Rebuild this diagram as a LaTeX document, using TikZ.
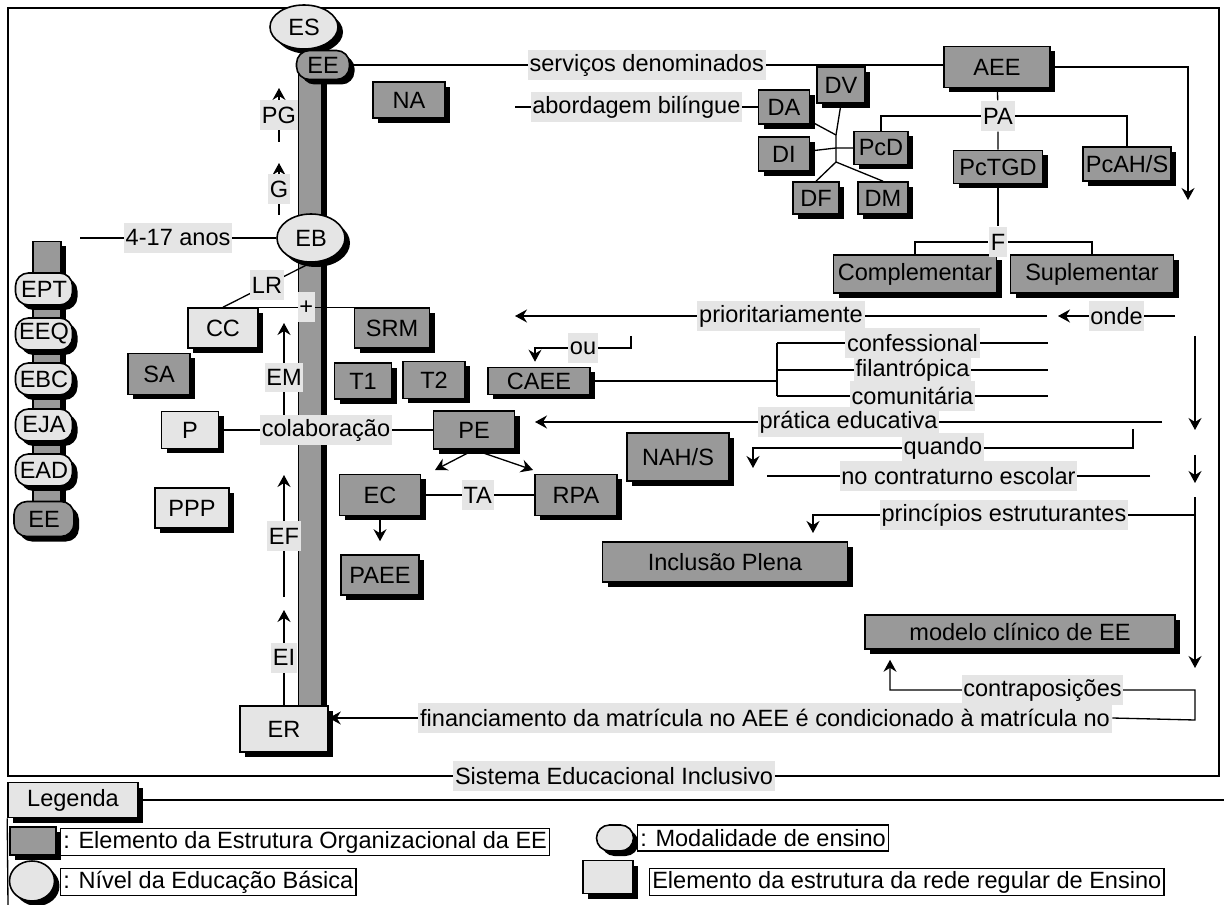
\documentclass[tikz,border=0pt]{standalone}
\usepackage{fontspec}
\setmainfont{Liberation Sans}
\usetikzlibrary{arrows.meta,shadows,shapes.geometric}
\definecolor{boxdark}{gray}{0.6}
\definecolor{boxlight}{gray}{0.9}
\definecolor{labfill}{gray}{0.9}
\begin{document}
\begin{tikzpicture}[x=0.02cm, y=-0.02cm, font=\fontsize{13.4}{15}\selectfont, line width=0.75pt,
  sz/.style 2 args={minimum width=#1*0.02cm, minimum height=#2*0.02cm},
  sh/.style={drop shadow={shadow xshift=0.1cm, shadow yshift=-0.1cm, fill=black, opacity=1}},
  d/.style={draw, line width=0.9pt, fill=boxdark, inner sep=0pt, sh},
  l/.style={draw, line width=0.9pt, fill=boxlight, inner sep=0pt, sh},
  lvl/.style={ellipse, draw, line width=0.9pt, fill=boxlight, inner sep=0pt, sh},
  mod/.style={draw, line width=0.9pt, rounded corners=0.26cm, inner sep=0pt, sh},
  lab/.style={fill=labfill, inner sep=1pt, minimum height=0.6cm},
  key/.style={draw, line width=0.7pt, fill=white, inner sep=1.5pt, minimum height=0.52cm},
  a/.style={-{Stealth[length=2.4mm, width=2.6mm, inset=0.8mm]}}]
\useasboundingbox (0,0) rectangle (1224,905);
\draw[line width=0.9pt] (8,8) rectangle (1219,776);
\node[lab] (sei) at (614,776) {Sistema Educacional Inclusivo};
% colunas
\node[d, sz={23}{647}] (bar) at (310,383) {};
\node[d, sz={28}{273}] (side) at (47,378) {};
% niveis e modalidades
\node[lvl, sz={68}{44}] (ES) at (304,27) {ES};
\node[mod, fill=boxdark, sz={53}{29}] (EEt) at (323,65) {EE};
\node[lvl, sz={68}{48}] (EB) at (311,238) {EB};
\node[mod, fill=boxlight, sz={57}{32}] (EPT) at (44,289) {EPT};
\node[mod, fill=boxlight, sz={57}{32}] (EEQ) at (44,334) {EEQ};
\node[mod, fill=boxlight, sz={57}{32}] (EBC) at (44,379) {EBC};
\node[mod, fill=boxlight, sz={57}{32}] (EJA) at (44,425) {EJA};
\node[mod, fill=boxlight, sz={57}{32}] (EAD) at (44,470) {EAD};
\node[mod, fill=boxdark, sz={60}{35}] (EEl) at (44,519) {EE};
% AEE
\node[d, sz={72}{36}] (NA) at (409,100) {NA};
\node[d, sz={106}{41}] (AEE) at (997,67) {AEE};
\node[d, sz={51}{34}] (DA) at (784,107) {DA};
\node[d, sz={48}{36}] (DV) at (841,85) {DV};
\node[d, sz={51}{34}] (DI) at (784,154) {DI};
\node[d, sz={54}{33}] (PcD) at (881,148) {PcD};
\node[d, sz={46}{32}] (DF) at (816,198) {DF};
\node[d, sz={50}{32}] (DM) at (883,198) {DM};
\node[d, sz={89}{33}] (PcTGD) at (998,167) {PcTGD};
\node[d, sz={88}{34}] (PcAHS) at (1127,164) {PcAH/S};
\node[d, sz={163}{38}] (comp) at (915,274) {Complementar};
\node[d, sz={163}{38}] (supl) at (1092,274) {Suplementar};
% rede regular
\node[l, sz={70}{40}] (CC) at (223,328) {CC};
\node[d, sz={75}{40}] (SRM) at (392,328) {SRM};
\node[d, sz={62}{41}] (SA) at (159,374) {SA};
\node[d, sz={57}{36}] (T1) at (363,381) {T1};
\node[d, sz={62}{37}] (T2) at (434,380) {T2};
\node[d, sz={102}{27}] (CAEE) at (539,381) {CAEE};
\node[l, sz={57}{37}] (P) at (190,430) {P};
\node[d, sz={81}{38}] (PE) at (474,430) {PE};
\node[d, sz={102}{48}] (NAHS) at (678,457) {NAH/S};
\node[l, sz={74}{40}] (PPP) at (192,508) {PPP};
\node[d, sz={81}{41}] (EC) at (380,495) {EC};
\node[d, sz={82}{41}] (RPA) at (576,495) {RPA};
\node[d, sz={78}{40}] (PAEE) at (380,575) {PAEE};
\node[d, sz={245}{40}] (IP) at (725,562) {Inclusão Plena};
\node[d, sz={310}{34}] (MC) at (1020,632) {modelo clínico de EE};
\node[l, sz={88}{46}] (ER) at (284,729) {ER};
% pontos soltos
\coordinate (gA) at (279,215); \coordinate (gB) at (279,163);
\coordinate (gC) at (279,142); \coordinate (gD) at (279,88);
\coordinate (anos) at (80,238);
\coordinate (bil) at (515,107);
\coordinate (j1) at (836,135); \coordinate (j2) at (836,148); \coordinate (j3) at (836,162);
\coordinate (down1) at (1188,200);
\coordinate (em1) at (284,432); \coordinate (em2) at (284,323);
\coordinate (ef1) at (284,597); \coordinate (ef2) at (284,475);
\coordinate (ei2) at (284,610);
\coordinate (toEC) at (435,470); \coordinate (toRPA) at (533,470);
\coordinate (ou1) at (631,336); \coordinate (ou2) at (535,348);
\coordinate (br0) at (777,381); \coordinate (br1) at (777,343);
\coordinate (br2) at (777,370); \coordinate (br3) at (777,396);
\coordinate (cf) at (1048,343); \coordinate (fl) at (1048,370); \coordinate (cm) at (1048,396);
\coordinate (pri1) at (1047,316); \coordinate (pri2) at (515,316);
\coordinate (ond1) at (1175,316); \coordinate (ond2) at (1058,316);
\coordinate (v2a) at (1195,336); \coordinate (v2b) at (1195,430);
\coordinate (v3a) at (1195,455); \coordinate (v3b) at (1195,483);
\coordinate (v4a) at (1195,497); \coordinate (v4b) at (1195,668);
\coordinate (pe1) at (1195,515); \coordinate (pe2) at (813,533);
\coordinate (pr1) at (1162,422); \coordinate (pr2) at (535,422);
\coordinate (qd1) at (1133,429); \coordinate (qd2) at (753,448); \coordinate (qd3) at (753,468);
\coordinate (nc1) at (1150,476); \coordinate (nc2) at (767,476);
\coordinate (ct1) at (1195,720); \coordinate (ct2) at (890,690);
% ligacoes
\draw[a] (gA) -- node[lab]{G} (gB);
\draw[a] (gC) -- node[lab]{PG} (gD);
\draw (EB.west) -- node[lab]{4-17 anos} (anos);
\draw (EEt.east) -- node[lab]{serviços denominados} (EEt.east -| AEE.west);
\draw[a] (AEE.east) -| (down1);
\draw (DA.west) -- node[lab]{abordagem bilíngue} (bil);
\draw (DA) -- (j1) -- (j3); \draw (DV.south) -- (j1);
\draw (DI) -- (j2) -- (PcD.west);
\draw (j3) -- (DF.north); \draw (j3) -- (DM.north);
\node[lab] (PA) at (998,116) {PA};
\draw (AEE) -- (PA) -- (PcTGD);
\draw (PcD.north) |- (PA.west); \draw (PA.east) -| (PcAHS.north);
\node[lab] (F) at (998,242) {F};
\draw (PcTGD) -- (F);
\draw (comp.north) |- (F.west); \draw (F.east) -| (supl.north);
\draw (EB.south) -- node[lab]{LR} (CC.north);
\draw (CC.north east) -- node[lab]{+} (SRM.north west);
\draw[a] (em1) -- node[lab]{EM} (em2);
\draw[a] (ef1) -- node[lab]{EF} (ef2);
\draw[a] (ER.north) -- node[lab]{EI} (ei2);
\draw (P.east) -- node[lab]{colaboração} (PE.west);
\draw[a] (PE.south) -- (toEC); \draw[a] (PE.south) -- (toRPA);
\draw (EC.east) -- node[lab]{TA} (RPA.west);
\draw[a, shorten >=0.26cm] (EC) -- (PAEE);
\draw[a, shorten >=0.1cm] (ou1) |- node[lab, pos=0.75]{ou} (ou2) -- (ou2 |- CAEE.north);
\draw (CAEE.east) -- (br0); \draw (br1) -- (br3);
\draw (br1) -- node[lab]{confessional} (cf);
\draw (br2) -- node[lab]{filantrópica} (fl);
\draw (br3) -- node[lab]{comunitária} (cm);
\draw[a] (pri1) -- node[lab]{prioritariamente} (pri2);
\draw[a] (ond1) -- node[lab]{onde} (ond2);
\draw[a] (v2a) -- (v2b); \draw[a] (v3a) -- (v3b); \draw[a] (v4a) -- (v4b);
\draw[a] (pe1) -| node[lab, pos=0.25]{princípios estruturantes} (pe2);
\draw[a] (pr1) -- node[lab]{prática educativa} (pr2);
\draw[a] (qd1) |- node[lab, pos=0.75]{quando} (qd2) -- (qd3);
\draw (nc1) -- node[lab]{no contraturno escolar} (nc2);
\node[lab] (fin) at (765,718) {financiamento da matrícula no AEE é condicionado à matrícula no};
\draw[a] (fin.west) -- (fin.west -| ER.east);
\draw[a, shorten >=0.2cm] (fin.east) -- (ct1) |- node[lab, pos=0.75]{contraposições} (ct2) -- (ct2 |- MC.south);
% legenda
\node[l, sz={130}{35}] (leg) at (73,800) {Legenda};
\draw (leg.east) -- (1224,800);
\draw (leg.south west) -- (8,905);
\node[d, sz={46}{28}] (k1) at (33,841) {};
\node[key, anchor=west] (t1) at (60,842) {: Elemento da Estrutura Organizacional da EE};
\node[lvl, sz={45}{40}] (k2) at (32,881) {};
\node[key, anchor=west] (t2) at (60,882) {: Nível da Educação Básica};
\node[mod, fill=boxlight, sz={37}{26}] (k3) at (615,838) {};
\node[key, anchor=west] (t3) at (637,838) {: Modalidade de ensino};
\node[l, sz={50}{33}] (k4) at (608,877) {};
\node[key, anchor=west] (t4) at (649,882) {Elemento da estrutura da rede regular de Ensino};
\end{tikzpicture}
\end{document}
